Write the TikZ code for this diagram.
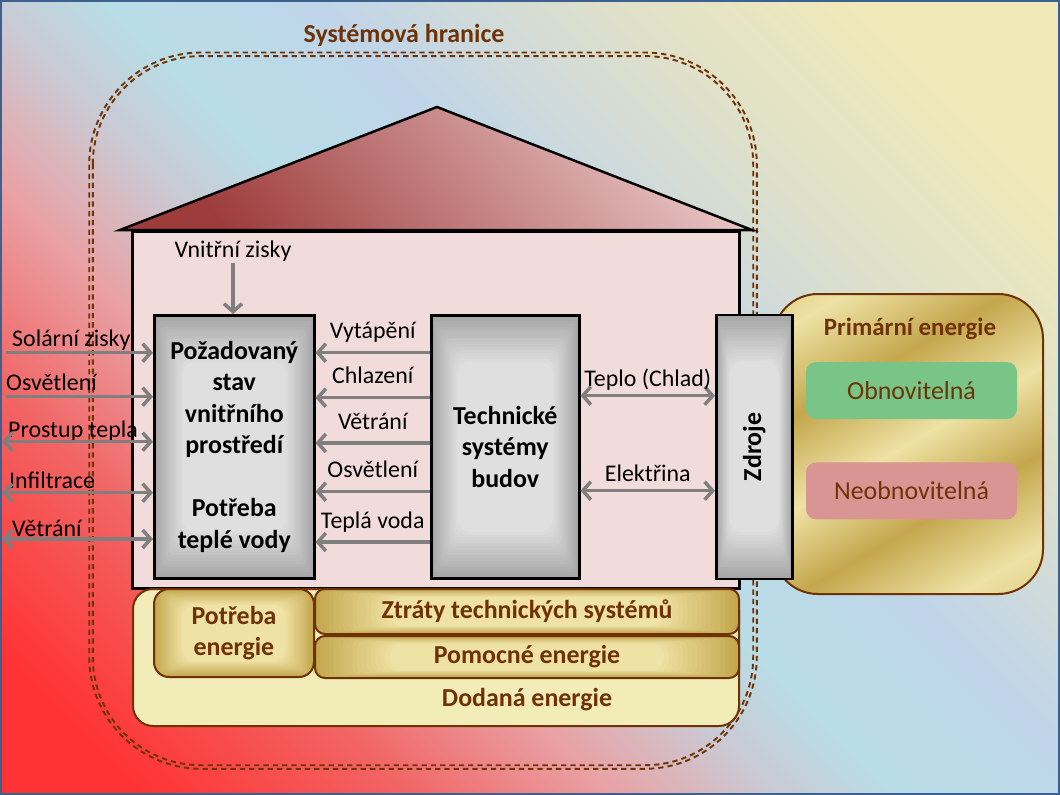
\documentclass[tikz,border=0pt]{standalone}
\usepackage{fontspec}
\setmainfont{Carlito}
\usepackage{graphicx}
\usetikzlibrary{arrows.meta, positioning, calc}

\definecolor{bgred}{HTML}{FF3333}
\definecolor{bgrose}{HTML}{F26464}
\definecolor{bgpink}{HTML}{E9A2A5}
\definecolor{bggrey}{HTML}{CBC9D3}
\definecolor{bgcyan}{HTML}{B8DDE6}
\definecolor{bgblue}{HTML}{C0D5EA}
\definecolor{bgsand}{HTML}{DCDFCC}
\definecolor{bgyellow}{HTML}{F1EAB8}
\definecolor{framecol}{HTML}{3C6090}
\definecolor{brownline}{HTML}{6E3205}
\definecolor{browntext}{HTML}{6E3206}
\definecolor{roofdark}{HTML}{9E3C3C}
\definecolor{roofmid}{HTML}{DCA8A8}
\definecolor{rooflight}{HTML}{E8C4C4}
\definecolor{housepink}{HTML}{F2DCDB}
\definecolor{boxdark}{HTML}{A6A6A6}
\definecolor{boxlight}{HTML}{DFDFDF}
\definecolor{golddark}{HTML}{C4A74E}
\definecolor{goldlight}{HTML}{EEE2A4}
\definecolor{dodana}{HTML}{F2ECB9}
\definecolor{renew}{HTML}{79C588}
\definecolor{nonrenew}{HTML}{D99594}
\definecolor{arrowgray}{HTML}{7F7F7F}

\pgfdeclarehorizontalshading{bgshade}{100bp}{color(0bp)=(bgred); color(20bp)=(bgred); color(30bp)=(bgrose); color(38bp)=(bgpink); color(44bp)=(bggrey); color(49bp)=(bgcyan); color(57bp)=(bgblue); color(67bp)=(bgsand); color(78bp)=(bgyellow); color(100bp)=(bgyellow)}
\pgfdeclarehorizontalshading{goldstripe}{100bp}{color(0bp)=(golddark); color(22bp)=(goldlight); color(36bp)=(golddark); color(50bp)=(goldlight); color(63bp)=(golddark); color(77bp)=(goldlight); color(100bp)=(golddark)}

\begin{document}
\begin{tikzpicture}[
    x=1bp, y=-1bp,
    lbl/.style={font=\fontsize{24}{28}\selectfont, inner sep=1bp, text height=17bp, text depth=5bp},
    boxtext/.style={font=\bfseries\fontsize{26}{31.5}\selectfont, align=center},
    shadebox/.style 2 args={path picture={
        \foreach \k in {0,...,16}{
            \pgfmathsetmacro\t{0.011*\k}
            \pgfmathtruncatemacro\m{100*\k/16}
            \pgfmathsetmacro\r{0.8*\k}
            \fill[#2!\m!#1, rounded corners=\r bp]
                ($(path picture bounding box.south west)!\t!(path picture bounding box.north east)$) rectangle
                ($(path picture bounding box.north east)!\t!(path picture bounding box.south west)$);
        }}},
    graybox/.style={shadebox={boxdark}{boxlight}, draw=black, line width=2.5bp, boxtext, inner sep=0pt},
    goldbox/.style={shadebox={golddark}{goldlight}, draw=brownline, line width=2bp, rounded corners=10bp, boxtext, text=browntext, inner sep=0pt},
    srcbox/.style={rounded corners=10bp, minimum width=211bp, minimum height=57bp, inner sep=1bp, font=\fontsize{26}{30}\selectfont, text=browntext},
    arr/.style={draw=arrowgray, line width=3.5bp, -{Straight Barb[length=8bp, width=18bp]}},
    biarr/.style={arr, {Straight Barb[length=8bp, width=18bp]}-{Straight Barb[length=8bp, width=18bp]}},
    boundary/.style={draw=brownline, line width=1.9bp, dash pattern=on 5.3bp off 4bp, rounded corners=#1}
]
\useasboundingbox (0,0) rectangle (1060,795);

% Background and system boundary
\shade[shading=bgshade, shading angle=45] (0,0) rectangle (1060,795);
\draw[boundary=112bp] (89.2,52.5) rectangle (756.8,768.8);
\draw[boundary=108bp] (92.8,56.1) rectangle (753.2,765.2);
\node[font=\bfseries\fontsize{26}{30}\selectfont, text=browntext] (hranice) at (404,35) {Systémová hranice};

% House
\shade[top color=rooflight, middle color=roofmid, bottom color=roofdark, shading angle=-50, draw=black, line width=2.5bp, line join=miter] (120,230) -- (437,107) -- (752,230) -- cycle;
\node[draw=black, line width=2.5bp, fill=housepink, minimum width=607bp, minimum height=357bp, anchor=north west] (house) at (131,230) {};

% Primary energy
\node[shade, shading=goldstripe, shading angle=-60, draw=brownline, line width=2bp, rounded corners=45bp, minimum width=270bp, minimum height=300bp, anchor=north west] (prim) at (772,293) {};
\node[font=\bfseries\fontsize{25}{30}\selectfont, text=browntext] (primlbl) at (910,329) {Primární energie};
\node[srcbox, fill=renew] (obn) at (911.5,390.5) {Obnovitelná};
\node[srcbox, fill=nonrenew, below=43bp of obn] (neobn) {Neobnovitelná};

% Boxes
\node[graybox, minimum width=160bp, minimum height=263bp, anchor=north west] (stav) at (153,314) {Požadovaný\\stav\\vnitřního\\prostředí\\[31.5bp]Potřeba\\teplé vody};
\node[graybox, minimum width=148bp, minimum height=263bp, anchor=north west] (tech) at (430,314) {Technické\\systémy\\budov};
\node[graybox, minimum width=76bp, minimum height=264bp, anchor=north west] (zdroje) at (715,313.5) {\rotatebox{90}{Zdroje}};

% Delivered energy
\node[draw=brownline, line width=2bp, fill=dodana, rounded corners=20bp, minimum width=606bp, minimum height=137bp, anchor=north west] (dodana) at (132,588) {};
\node[font=\bfseries\fontsize{26}{30}\selectfont, text=browntext, anchor=base] (dodlbl) at (527,706) {Dodaná energie};
\node[goldbox, rounded corners=15bp, minimum width=160bp, minimum height=88bp, anchor=north west] (potreba) at (153,588) {Potřeba\\energie};
\node[goldbox, minimum width=424bp, minimum height=45bp, anchor=north west] (ztraty) at (314,588) {Ztráty technických systémů};
\node[goldbox, minimum width=424bp, minimum height=42bp, anchor=north west] (pomocne) at (314,635) {Pomocné energie};

% Labels outside
\node[lbl, anchor=base west] (lsol) at (11,346) {Solární zisky};
\node[lbl, anchor=base west] (losv) at (5,390.5) {Osvětlení};
\node[lbl, anchor=base west] (lpro) at (7,437) {Prostup tepla};
\node[lbl, anchor=base west] (linf) at (8,488) {Infiltrace};
\node[lbl, anchor=base west] (lvet) at (11,536) {Větrání};
\node[lbl, anchor=base] (vz) at (233,257) {Vnitřní zisky};

\coordinate (solin) at (6,352.7);
\coordinate (osvin) at (6,396.7);
\coordinate (proin) at (2,441.7);
\coordinate (infin) at (2,492.7);
\coordinate (vetin) at (2,539);

% Arrows
\draw[arr] (vz.south) -- (stav.north -| vz);
\draw[arr] (solin) -- (stav.west |- solin);
\draw[arr] (osvin) -- (stav.west |- osvin);
\draw[biarr] (proin) -- (stav.west |- proin);
\draw[biarr] (infin) -- (stav.west |- infin);
\draw[biarr] (vetin) -- (stav.west |- vetin);

\draw[arr] (tech.west |- 0,352.7) -- node[lbl, above=6bp] {Vytápění} (stav.east |- 0,352.7);
\draw[arr] (tech.west |- 0,397.7) -- node[lbl, above=6bp] {Chlazení} (stav.east |- 0,397.7);
\draw[arr] (tech.west |- 0,443) -- node[lbl, above=6bp] {Větrání} (stav.east |- 0,443);
\draw[arr] (tech.west |- 0,491.7) -- node[lbl, above=6bp] {Osvětlení} (stav.east |- 0,491.7);
\draw[arr] (tech.west |- 0,542) -- node[lbl, above=6bp] {Teplá voda} (stav.east |- 0,542);

\draw[biarr] (tech.east |- 0,395.7) -- node[lbl, above=1.5bp] {Teplo (Chlad)} (zdroje.west |- 0,395.7);
\draw[biarr] (tech.east |- 0,490.7) -- node[lbl, above=1.5bp] {Elektřina} (zdroje.west |- 0,490.7);

% Frame
\draw[framecol, line width=2bp] (1,1) rectangle (1059,794);
\end{tikzpicture}
\end{document}
